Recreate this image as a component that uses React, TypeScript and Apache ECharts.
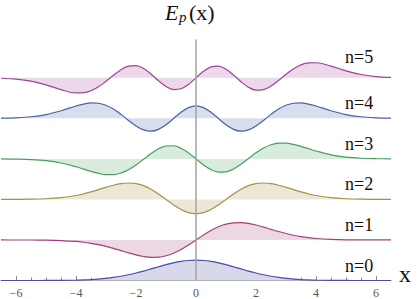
import React, { useEffect, useRef } from "react";
import * as echarts from "echarts";

// x sample positions
const xs = [-6.5, -6, -5.5, -5, -4.5, -4, -3.75, -3.5, -3.25, -3, -2.75, -2.5, -2.25, -2, -1.75, -1.5, -1.25, -1, -0.75, -0.5, -0.25, 0, 0.25, 0.5, 0.75, 1, 1.25, 1.5, 1.75, 2, 2.25, 2.5, 2.75, 3, 3.25, 3.5, 3.75, 4, 4.5, 5, 5.5, 6, 6.5];

// curve values (relative to each level's baseline)
const psi0 = [0.000, 0.000, 0.000, 0.001, 0.005, 0.014, 0.022, 0.035, 0.054, 0.079, 0.113, 0.157, 0.212, 0.276, 0.349, 0.428, 0.508, 0.585, 0.653, 0.706, 0.740, 0.751, 0.740, 0.706, 0.653, 0.585, 0.508, 0.428, 0.349, 0.276, 0.212, 0.157, 0.113, 0.079, 0.054, 0.035, 0.022, 0.014, 0.005, 0.001, 0.000, 0.000, 0.000];
const psi1 = [0.000, -0.001, -0.002, -0.007, -0.022, -0.055, -0.084, -0.123, -0.174, -0.238, -0.312, -0.394, -0.477, -0.553, -0.611, -0.642, -0.635, -0.585, -0.490, -0.353, -0.185, 0, 0.185, 0.353, 0.490, 0.585, 0.635, 0.642, 0.611, 0.553, 0.477, 0.394, 0.312, 0.238, 0.174, 0.123, 0.084, 0.055, 0.022, 0.007, 0.002, 0.001, 0.000];
const psi2 = [0.001, 0.002, 0.008, 0.025, 0.065, 0.146, 0.206, 0.279, 0.362, 0.448, 0.526, 0.584, 0.609, 0.586, 0.509, 0.378, 0.202, 0, -0.202, -0.374, -0.490, -0.531, -0.490, -0.374, -0.202, 0, 0.202, 0.378, 0.509, 0.586, 0.609, 0.584, 0.526, 0.448, 0.362, 0.279, 0.206, 0.146, 0.065, 0.025, 0.008, 0.002, 0.001];
const psi3 = [-0.002, -0.008, -0.024, -0.065, -0.151, -0.292, -0.378, -0.464, -0.537, -0.582, -0.581, -0.522, -0.401, -0.226, -0.016, 0.197, 0.373, 0.478, 0.487, 0.396, 0.222, 0, -0.222, -0.396, -0.487, -0.478, -0.373, -0.197, 0.016, 0.226, 0.401, 0.522, 0.581, 0.582, 0.537, 0.464, 0.378, 0.292, 0.151, 0.065, 0.024, 0.008, 0.002];
const psi4 = [0.006, 0.021, 0.059, 0.141, 0.283, 0.458, 0.530, 0.570, 0.560, 0.485, 0.343, 0.147, -0.076, -0.282, -0.428, -0.475, -0.408, -0.239, -0.008, 0.225, 0.397, 0.460, 0.397, 0.225, -0.008, -0.239, -0.408, -0.475, -0.428, -0.282, -0.076, 0.147, 0.343, 0.485, 0.560, 0.570, 0.530, 0.458, 0.283, 0.141, 0.059, 0.021, 0.006];
const psi5 = [-0.016, -0.048, -0.123, -0.258, -0.435, -0.558, -0.551, -0.478, -0.333, -0.130, 0.098, 0.303, 0.435, 0.454, 0.349, 0.143, -0.105, -0.320, -0.433, -0.405, -0.243, 0, 0.243, 0.405, 0.433, 0.320, 0.105, -0.143, -0.349, -0.454, -0.435, -0.303, -0.098, 0.130, 0.333, 0.478, 0.551, 0.558, 0.435, 0.258, 0.123, 0.048, 0.016];

const curves = [psi0, psi1, psi2, psi3, psi4, psi5];
const baselines = [0, 1.5, 3, 4.5, 6, 7.5];
const levelLabels = ["n=0", "n=1", "n=2", "n=3", "n=4", "n=5"];

const tickLabelValues = [-6, -4, -2, 0, 2, 4, 6];
const minorTickValues = [-6, -5.5, -5, -4.5, -4, -3.5, -3, -2.5, -2, -1.5, -1, -0.5, 0, 0.5, 1, 1.5, 2, 2.5, 3, 3.5, 4, 4.5, 5, 5.5, 6];

const lineColors = ["#4b4ba8", "#a3407a", "#a39345", "#46a05c", "#4763a3", "#a0449a"];
const fillColors = ["#d8d8eb", "#ebd8e3", "#ebe8d8", "#d8ebdd", "#d8deeb", "#ebd8e9"];
const labelCenters = [267, 226, 185, 145, 104, 58];

const SERIF = "Liberation Serif";

function txt(text: string, left: number, top: number, size: number, italic = false) {
  const style: any = { text, fontFamily: SERIF, fontSize: size, fill: "#111" };
  if (italic) style.fontStyle = "italic";
  return { type: "text", left, top, style };
}

export default function App() {
  const ref = useRef<HTMLDivElement>(null);
  useEffect(() => {
    if (!ref.current) return;
    const chart = echarts.init(ref.current, null, { renderer: "svg" });
    const series: any[] = curves.map((c, k) => ({
      type: "line",
      name: levelLabels[k],
      data: xs.map((x, i) => [x, baselines[k] + c[i]]),
      smooth: 0.35,
      showSymbol: false,
      symbol: "none",
      z: 3,
      lineStyle: { color: lineColors[k], width: 1.2 },
      areaStyle: { origin: baselines[k], color: fillColors[k], opacity: 1 },
    }));
    const graphic: any[] = [
      txt("E", 165, 1, 22, true),
      txt("p", 179, 9, 15, true),
      txt("(x)", 189, 1, 22),
      txt("x", 399, 262, 24),
      ...levelLabels.map((t, k) => txt(t, 345, labelCenters[k] - 10, 18)),
    ];
    chart.setOption({
      animation: false,
      grid: { left: 1, right: 26, top: 40, bottom: 18.5, containLabel: false },
      xAxis: [
        {
          type: "value",
          min: -6.5,
          max: 6.5,
          z: 1,
          axisLine: { show: true, onZero: true, lineStyle: { color: "#8a8a8a", width: 1 } },
          axisTick: {
            show: true,
            inside: true,
            length: 3,
            customValues: minorTickValues,
            lineStyle: { color: "#8a8a8a", width: 1 },
          },
          axisLabel: {
            show: true,
            customValues: tickLabelValues,
            margin: 6,
            fontFamily: SERIF,
            fontSize: 12,
            color: "#555",
            formatter: (v: number) => String(v).replace("-", "\u2212"),
          },
          splitLine: { show: false },
        },
        {
          type: "value",
          min: -6.5,
          max: 6.5,
          position: "bottom",
          z: 1,
          axisLine: { show: false },
          axisTick: {
            show: true,
            inside: true,
            length: 4.5,
            customValues: tickLabelValues,
            lineStyle: { color: "#8a8a8a", width: 1 },
          },
          axisLabel: { show: false },
          splitLine: { show: false },
        },
      ],
      yAxis: {
        type: "value",
        min: 0,
        max: 8.9,
        z: 10,
        axisLine: { show: true, onZero: true, onZeroAxisIndex: 0, lineStyle: { color: "#a8a8a8", width: 1.6 } },
        axisTick: { show: false },
        axisLabel: { show: false },
        splitLine: { show: false },
      },
      series,
      graphic,
    });
    return () => chart.dispose();
  }, []);
  return (
    <div
      ref={ref}
      style={{ position: "fixed", left: 0, top: 0, width: 417, height: 299, background: "#fff" }}
    />
  );
}
